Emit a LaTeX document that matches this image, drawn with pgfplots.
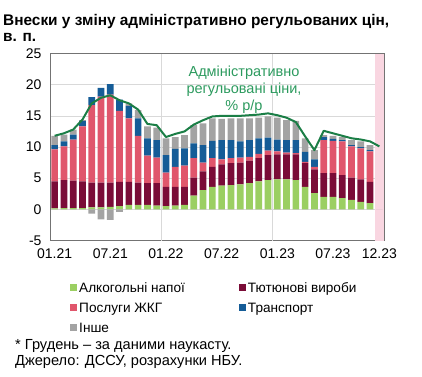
\documentclass[border=0pt]{standalone}
\usepackage{pgfplots}
\usepackage{pgfplotstable}
\pgfplotsset{compat=1.18}
\usepackage{fontspec}
\setmainfont{Liberation Sans}
\definecolor{cAlc}{HTML}{9BCF62}
\definecolor{cTob}{HTML}{7A0C37}
\definecolor{cZhkg}{HTML}{E0566C}
\definecolor{cTr}{HTML}{155C97}
\definecolor{cOth}{HTML}{A3A3A3}
\definecolor{cLine}{HTML}{1B7E46}
\definecolor{cText}{HTML}{2C9A5E}
\definecolor{cShade}{HTML}{F9D6E1}
\pgfplotstableread{
x alc tob zhkg tr oth neg line
0 0.15 4.35 5.1 0.7 1.5 0 11.8
1 0.2 4.5 5.4 0.8 1.1 0 12.2
2 0.2 4.4 6.6 0.8 0.8 0 12.8
3 0.2 4.3 8.8 0.9 0.1 0 14.4
4 0.3 4.0 12.4 1.3 0 -0.7 17.0
5 0.3 4.0 13.8 1.4 0 -1.6 17.9
6 0.4 3.9 14.1 1.7 0 -1.7 18.3
7 0.5 3.9 11.4 1.8 0 -0.4 17.5
8 0.7 3.7 10.2 2.0 0.4 0 17.0
9 0.7 3.6 7.5 2.8 1.3 0 16.0
10 0.7 3.5 4.4 2.8 1.9 0 13.7
11 0.6 3.6 4.1 2.8 2.0 0 13.5
12 0.5 3.1 2.3 2.8 2.7 0 11.6
13 0.6 3.0 3.2 2.9 1.9 0 12.1
14 0.7 2.9 3.4 2.8 2.1 0 12.5
15 2.2 2.9 3.1 2.4 2.9 0 13.6
16 3.1 3.0 1.4 2.8 3.5 0 14.3
17 3.6 3.2 1.4 2.8 3.6 0 14.9
18 3.8 3.4 0.8 3.1 3.4 0 15.0
19 3.9 3.5 0.8 2.9 3.5 0 15.0
20 4.0 3.5 0.8 2.6 3.7 0 15.0
21 4.2 3.6 0.6 2.7 3.5 0 15.1
22 4.5 3.7 0.7 2.5 3.3 0 15.2
23 4.7 4.0 0.7 2.1 3.4 0 15.4
24 4.8 4.0 0.5 1.9 3.5 0 15.1
25 4.8 4.0 0.3 2.0 3.2 0 14.7
26 4.7 4.1 0.2 2.1 3.1 0 14.0
27 3.6 3.8 0.2 1.6 2.2 0 11.7
28 2.6 3.8 0.4 1.2 1.5 0 9.5
29 2.0 3.8 5.3 0.5 0.3 0 12.6
30 2.0 3.8 5.2 0.3 0.5 0 12.2
31 1.8 3.7 5.4 0.2 0.5 0 11.8
32 1.5 3.6 5.0 0.2 0.8 0 11.4
33 1.2 3.6 5.0 0.2 0.9 0 11.2
34 1.0 3.4 4.9 0.2 0.8 0 10.9
35 0.9 3.1 4.7 0.3 1.1 0 10.1
}\datatable
\begin{document}
\begin{tikzpicture}
\useasboundingbox (0,0) rectangle (422pt,376pt);
\node[anchor=north west, font=\bfseries\fontsize{15.4}{16.5}\selectfont, align=left, inner sep=0] at (3pt,362pt) {Внески у зміну адміністративно регульованих цін,\\в. п.};
\begin{axis}[
  at={(50pt,135.5pt)}, anchor=south west,
  scale only axis, width=334pt, height=187pt,
  xmin=-0.5, xmax=35.5, ymin=-5, ymax=25,
  ybar stacked, bar width=0.72,
  xtick={0,6,12,18,24,30,35},
  xticklabels={01.21,07.21,01.22,07.22,01.23,07.23,12.23},
  ytick={-5,0,5,10,15,20,25},
  ymajorgrids, grid style={draw=black!15, line width=0.6pt},
  extra x ticks={11.5,23.5}, extra x tick labels={},
  extra x tick style={xmajorgrids=true},
  major tick length=0pt,
  axis line style={draw=black!55, line width=0.9pt},
  tick label style={font=\fontsize{14}{16}\selectfont},
  xticklabel style={yshift=-5pt},
  yticklabel style={xshift=-5pt},
  /pgf/number format/assume math mode=true,
  legend columns=2,
  legend cell align=left,
  legend style={at={(0.06,-0.214)}, anchor=north west, draw=none, fill=none,
    font=\fontsize{13.6}{15}\selectfont, inner sep=0pt, row sep=4.8pt,
    /tikz/column 2/.style={column sep=52pt}},
]
\fill[cShade] (axis cs:34.5,-5) rectangle (axis cs:35.5,25);
\addplot[fill=cAlc, draw=none, legend image code/.code={\fill[cAlc] (0pt,-3pt) rectangle (7pt,4pt);}] table[x=x,y=alc]{\datatable};
\addplot[fill=cTob, draw=none, legend image code/.code={\fill[cTob] (0pt,-3pt) rectangle (7pt,4pt);}] table[x=x,y=tob]{\datatable};
\addplot[fill=cZhkg, draw=none, legend image code/.code={\fill[cZhkg] (0pt,-3pt) rectangle (7pt,4pt);}] table[x=x,y=zhkg]{\datatable};
\addplot[fill=cTr, draw=none, legend image code/.code={\fill[cTr] (0pt,-3pt) rectangle (7pt,4pt);}] table[x=x,y=tr]{\datatable};
\addplot[fill=cOth, draw=none, legend image code/.code={\fill[cOth] (0pt,-3pt) rectangle (7pt,4pt);}] table[x=x,y=oth]{\datatable};
\legend{Алкогольні напої, Тютюнові вироби, Послуги ЖКГ, Транспорт, Інше}
\end{axis}
\begin{axis}[
  at={(50pt,135.5pt)}, anchor=south west,
  scale only axis, width=334pt, height=187pt,
  xmin=-0.5, xmax=35.5, ymin=-5, ymax=25,
  hide axis,
]
\addplot[ybar, bar width=0.72, bar shift=0pt, fill=cOth, draw=none] table[x=x,y=neg]{\datatable};
\addplot[sharp plot, no marks, color=cLine, line width=2pt, line join=round] table[x=x,y=line]{\datatable};
\end{axis}
\node[anchor=north, align=center, inner sep=0pt, text=cText, font=\fontsize{14.5}{17}\selectfont] at (244pt,310pt) {Адміністративно\\регульовані ціни,\\\% р/р};
\node[anchor=base west, inner sep=0pt, font=\fontsize{14.6}{16}\selectfont] at (15pt,27pt) {* Грудень – за даними наукасту.};
\node[anchor=base west, inner sep=0pt, font=\fontsize{14.6}{16}\selectfont] at (15pt,11pt) {Джерело: ДССУ, розрахунки НБУ.};
\end{tikzpicture}
\end{document}
